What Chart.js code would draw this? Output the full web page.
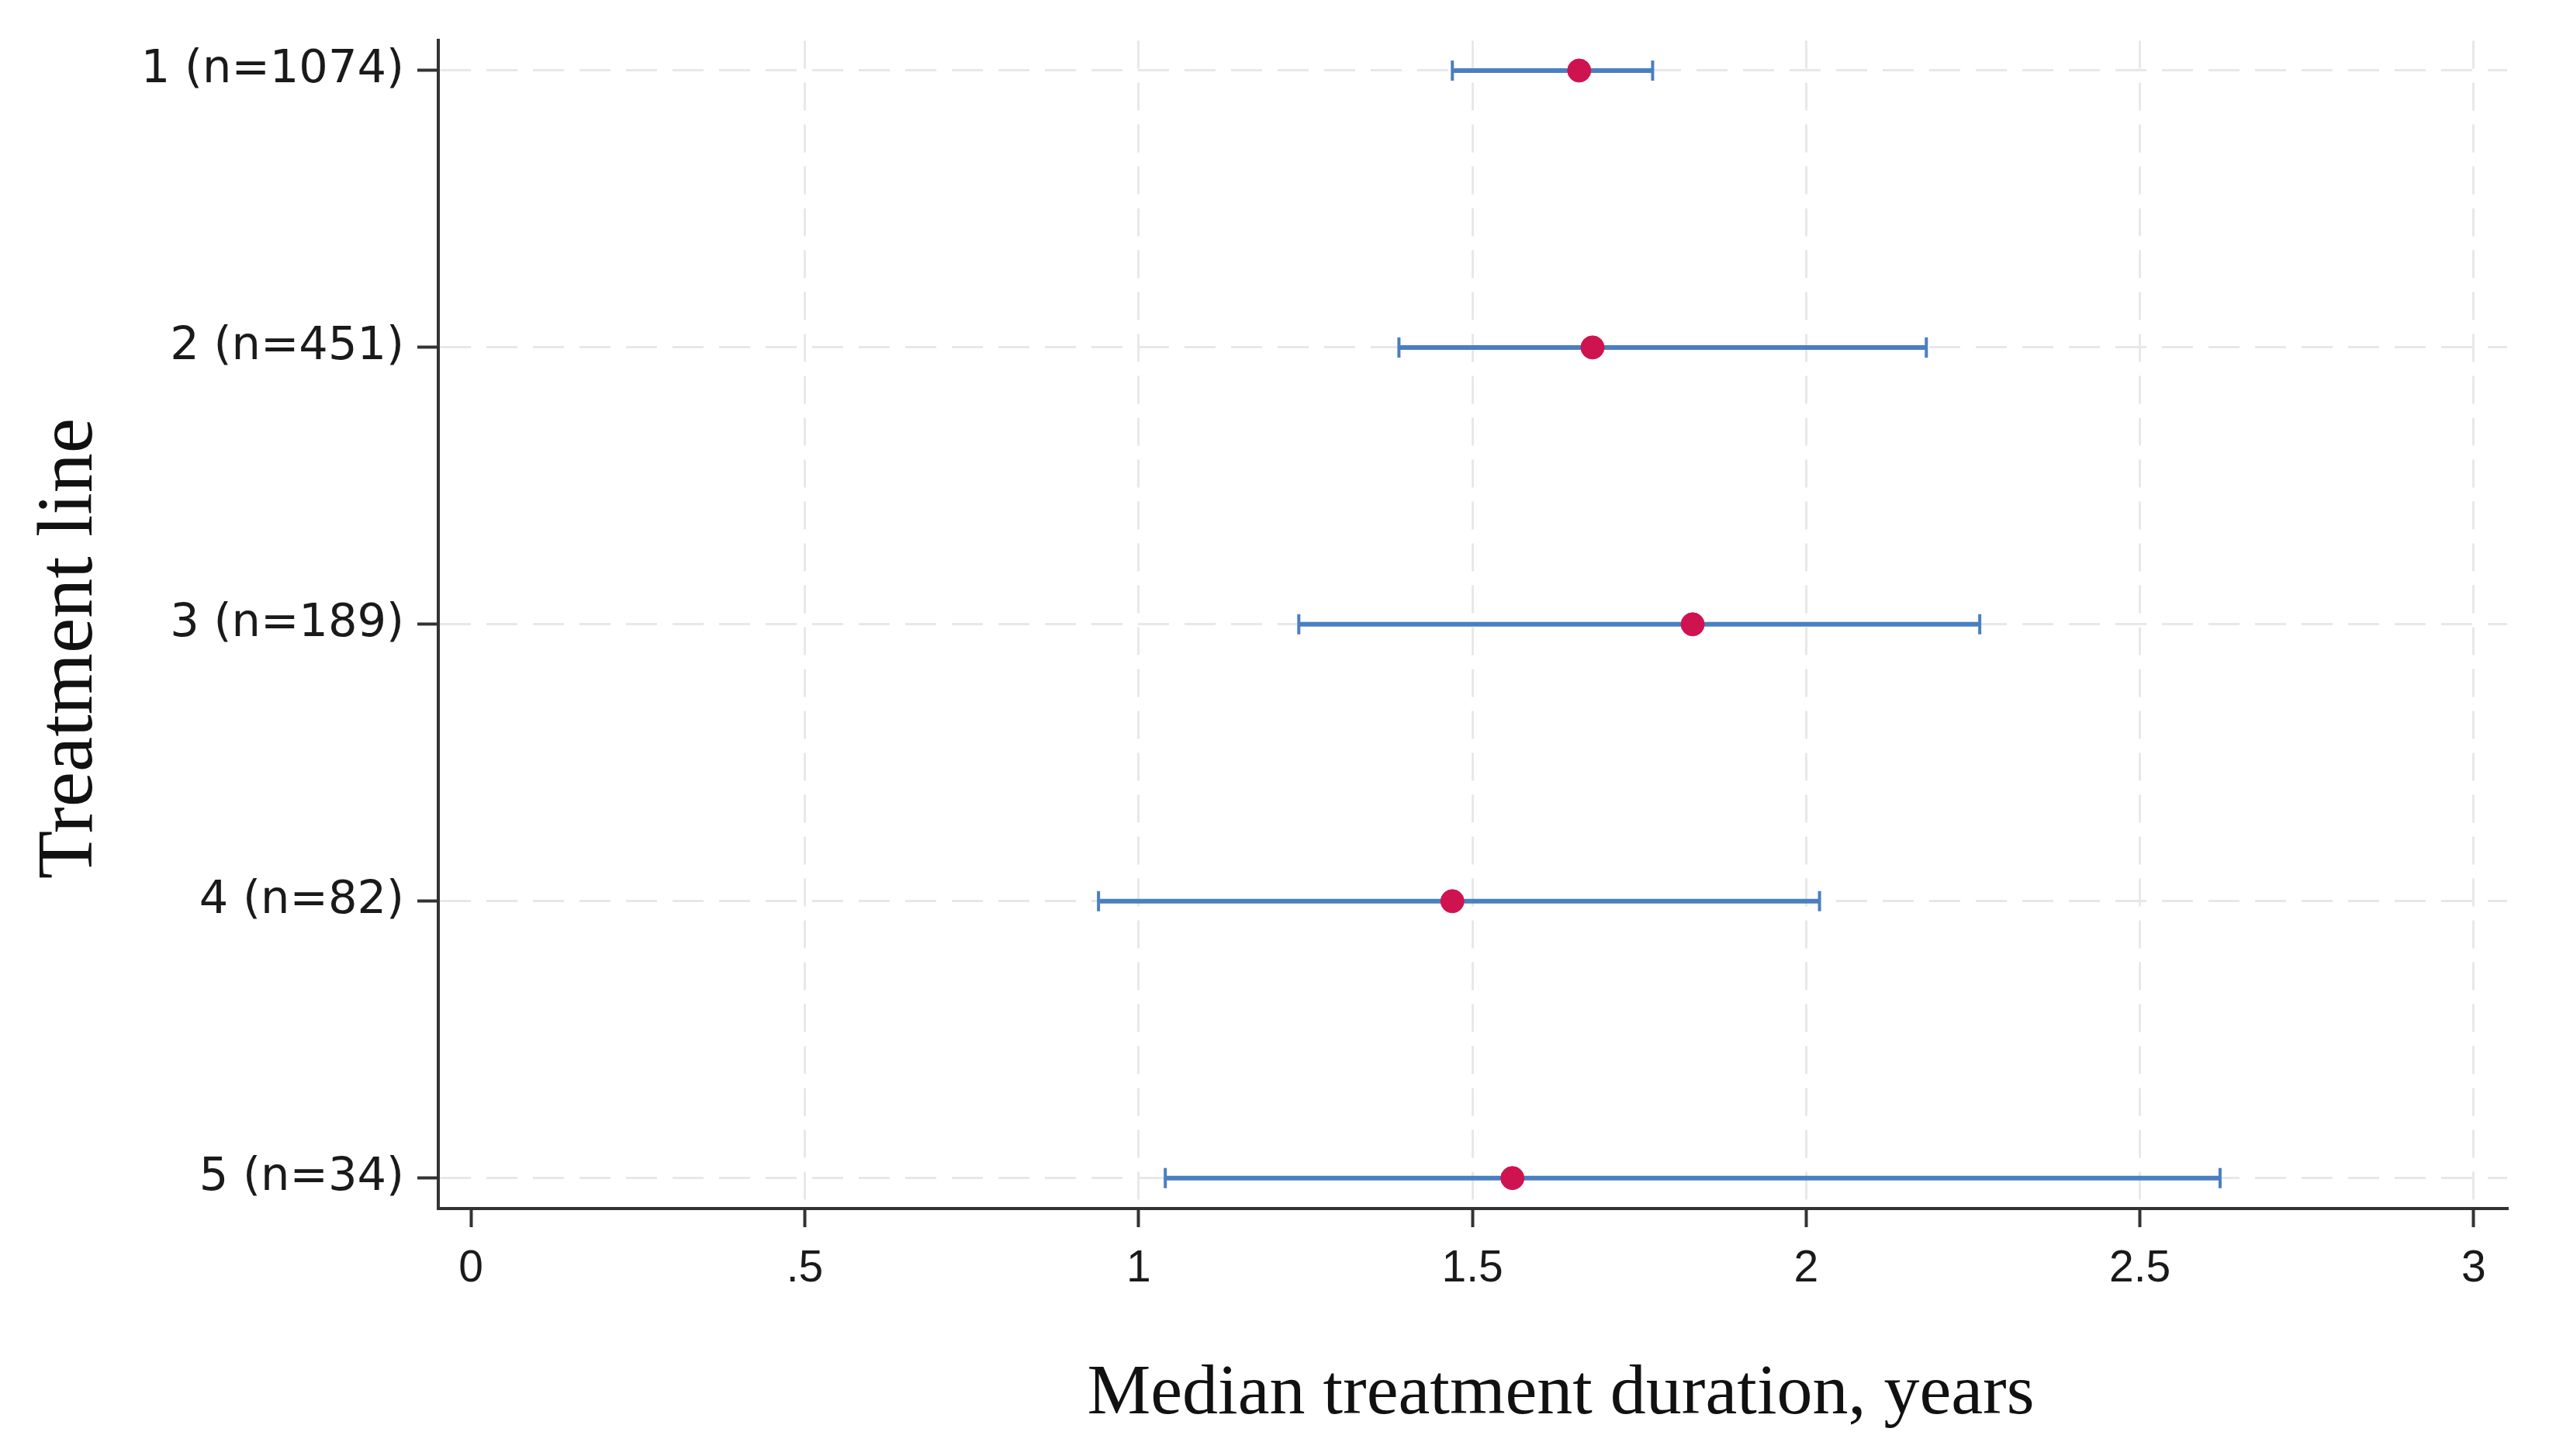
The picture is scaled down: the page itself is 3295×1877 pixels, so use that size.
<!DOCTYPE html>
<html>
<head>
<meta charset="utf-8">
<script src="https://cdn.jsdelivr.net/npm/chart.js@4.4.0/dist/chart.umd.min.js"></script>
<style>
  html, body { margin: 0; padding: 0; background: #fff; }
  #wrap { width: 3295px; height: 1877px; }
</style>
</head>
<body>
<div id="wrap"><canvas id="forest"></canvas></div>
<script>
// treatment lines, top to bottom
var lineLabels = ['1 (n=1074)', '2 (n=451)', '3 (n=189)', '4 (n=82)', '5 (n=34)'];
var linePos = [1, 2, 3, 4, 5];

// median treatment duration in years, with lower / upper limits
var medianYears = [1.66, 1.68, 1.83, 1.47, 1.56];
var lowerYears = [1.47, 1.39, 1.24, 0.94, 1.04];
var upperYears = [1.77, 2.18, 2.26, 2.02, 2.62];

var xTicks = [0, 0.5, 1, 1.5, 2, 2.5, 3];
var xTickLabels = ['0', '.5', '1', '1.5', '2', '2.5', '3'];

var xTitle = 'Median treatment duration, years';
var yTitle = 'Treatment line';

var barColor = '#4a7fc0';
var dotColor = '#cf1350';
var gridColor = '#e8e8e8';
var axisColor = '#333333';

// medians first so they are drawn on top of the ranges
var datasets = [{
  label: 'Median',
  data: linePos.map(function (p, i) { return { x: medianYears[i], y: p }; }),
  showLine: false,
  pointStyle: 'circle',
  pointRadius: 15,
  pointBackgroundColor: dotColor,
  pointBorderColor: dotColor,
  pointBorderWidth: 1
}];

linePos.forEach(function (p, i) {
  datasets.push({
    label: 'Range ' + lineLabels[i],
    data: [{ x: lowerYears[i], y: p }, { x: upperYears[i], y: p }],
    showLine: true,
    fill: false,
    borderColor: barColor,
    borderWidth: 6,
    pointStyle: 'line',
    pointRotation: 90,
    pointRadius: 13,
    pointBorderWidth: 4,
    pointBorderColor: barColor
  });
});

// axis titles placed by hand, the reference has them off-centre
var axisTitles = {
  id: 'axisTitles',
  afterDraw: function (chart) {
    var ctx = chart.ctx;
    ctx.save();
    ctx.fillStyle = '#111111';
    ctx.textAlign = 'center';
    ctx.textBaseline = 'alphabetic';
    ctx.font = '92px "Liberation Serif", "Times New Roman", serif';
    ctx.fillText(xTitle, 2012, 1822);
    ctx.translate(118, 836);
    ctx.rotate(-Math.PI / 2);
    ctx.font = '102px "Liberation Serif", "Times New Roman", serif';
    ctx.fillText(yTitle, 0, 0);
    ctx.restore();
  }
};

var ctx = document.getElementById('forest').getContext('2d');

var forestChart = new Chart(ctx,
{
  type: 'scatter',
  data: { datasets: datasets },
  plugins: [axisTitles],
  options:
  {
    responsive: true,
    maintainAspectRatio: false,
    devicePixelRatio: 1,
    animation: false,
    layout: { padding: { top: 41, right: 63, left: 0, bottom: 0 } },
    plugins:
    {
      legend: { display: false },
      tooltip: { enabled: false }
    },
    scales:
    {
      x:
      {
        type: 'linear',
        min: -0.049,
        max: 3.05,
        afterBuildTicks: function (scale) {
          scale.ticks = xTicks.map(function (v) { return { value: v }; });
        },
        afterFit: function (scale) { scale.height = 319; },
        ticks:
        {
          autoSkip: false,
          maxRotation: 0,
          padding: 20,
          color: '#1a1a1a',
          font: { family: '"Liberation Sans", Arial, sans-serif', size: 57 },
          callback: function (value) {
            var k = xTicks.indexOf(value);
            return k >= 0 ? xTickLabels[k] : '';
          }
        },
        grid:
        {
          color: function (c) {
            return (c.tick && c.tick.value === 0) ? 'rgba(0,0,0,0)' : gridColor;
          },
          lineWidth: 3,
          tickColor: axisColor,
          tickLength: 24,
          tickWidth: 4,
          tickBorderDash: []
        },
        border: { color: axisColor, width: 4, dash: [36, 18] }
      },
      y:
      {
        type: 'linear',
        reverse: true,
        min: 0.892,
        max: 5.11,
        afterBuildTicks: function (scale) {
          scale.ticks = linePos.map(function (v) { return { value: v }; });
        },
        afterFit: function (scale) { scale.width = 565; },
        ticks:
        {
          autoSkip: false,
          padding: 17,
          color: '#1a1a1a',
          font: { family: '"DejaVu Sans", Verdana, sans-serif', size: 59 },
          callback: function (value) {
            var k = linePos.indexOf(value);
            return k >= 0 ? lineLabels[k] : '';
          }
        },
        grid:
        {
          color: gridColor,
          lineWidth: 3,
          tickColor: axisColor,
          tickLength: 27,
          tickWidth: 4,
          tickBorderDash: []
        },
        border: { color: axisColor, width: 4, dash: [40, 20] }
      }
    }
  }
});
</script>
</body>
</html>
